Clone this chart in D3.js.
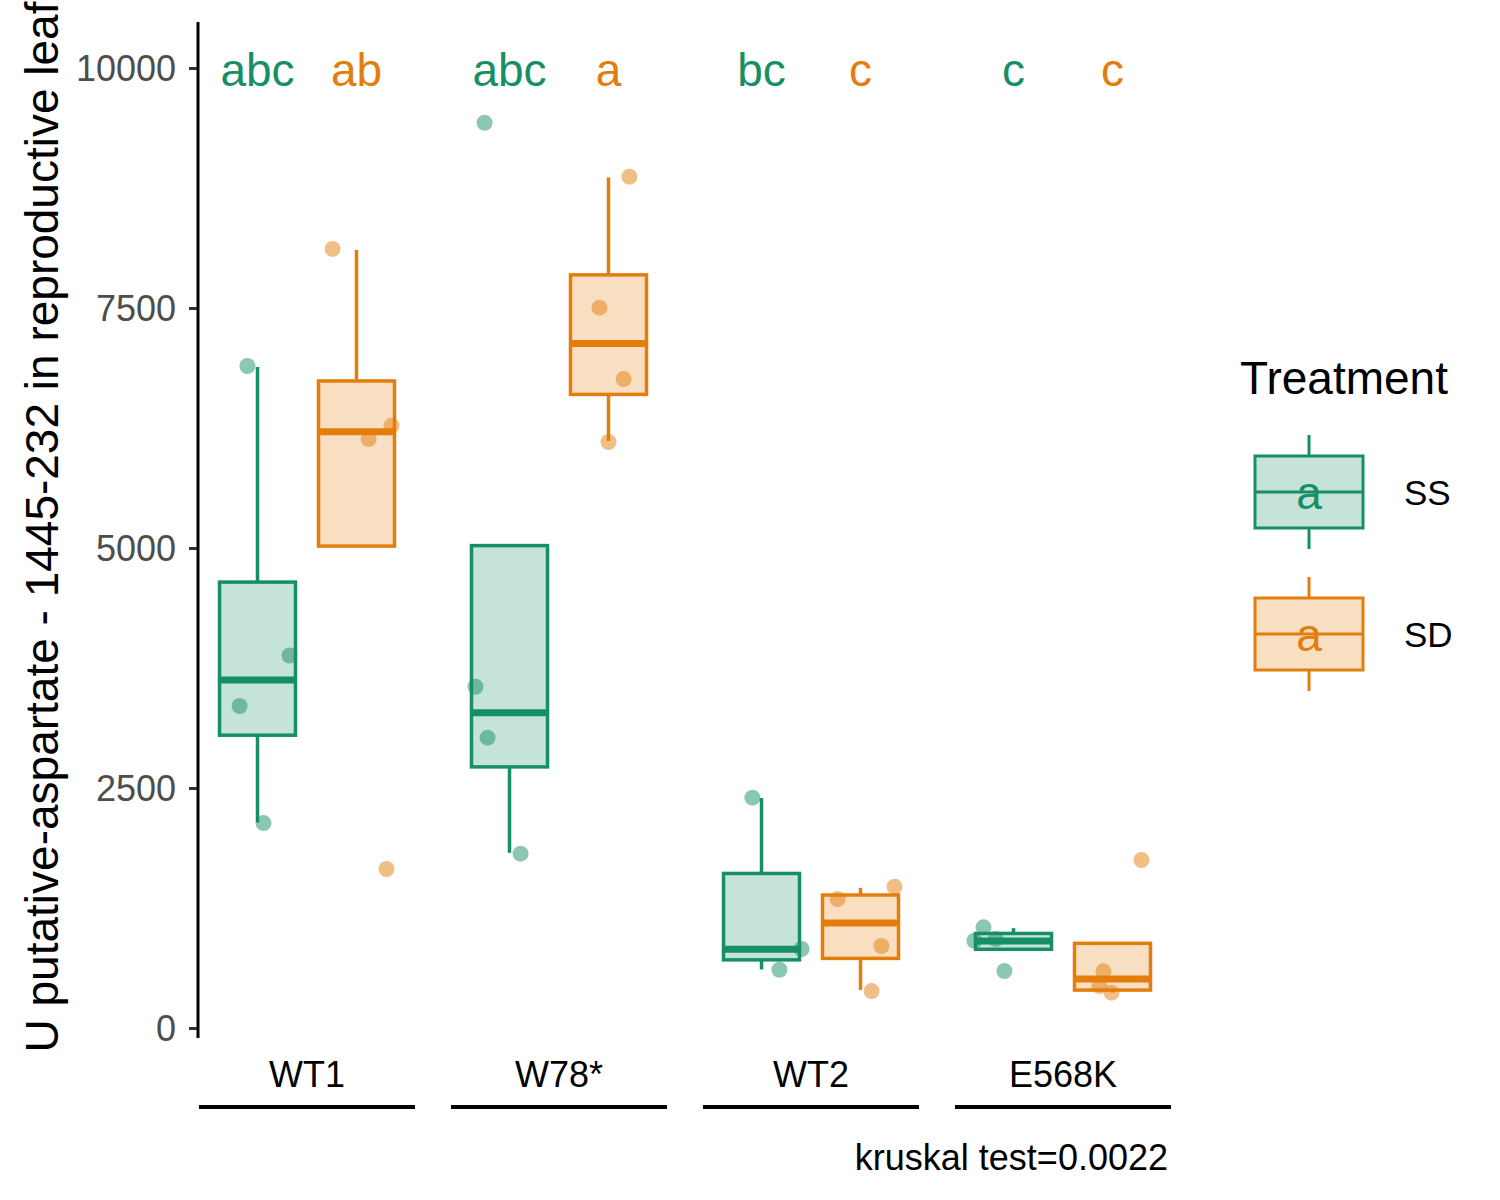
<!DOCTYPE html>
<html>
<head>
<meta charset="utf-8">
<script src="https://cdn.jsdelivr.net/npm/d3@7"></script>
<style>
  body { margin: 0; background: #fff; }
  svg { font-family: "Liberation Sans", Arial, sans-serif; }
</style>
</head>
<body>
<svg id="chart" width="1500" height="1200"></svg>
<script>
// ---------------- data ----------------
const genotypes = ["WT1", "W78*", "WT2", "E568K"];
const treatments = ["SS", "SD"];
const yTicks = [0, 2500, 5000, 7500, 10000];

// box statistics per genotype, [SS, SD]
const q1      = [[3050, 5020], [2720, 6600], [710, 725], [820, 395]];
const medians = [[3625, 6210], [3285, 7130], [820, 1095], [905, 510]];
const q3      = [[4645, 6740], [5025, 7845], [1610, 1385], [985, 882]];
const whiskLo = [[2140, 5020], [1825, 6115], [610, 395], [820, 370]];
const whiskHi = [[6885, 8105], [5025, 8860], [2395, 1460], [1040, 882]];

// observed points per genotype, [SS, SD]
const pointValues = [
  [[6896, 3880, 3354, 2135], [8115, 6274, 6135, 1656]],
  [[9430, 3555, 3024, 1816], [8868, 7503, 6760, 6104]],
  [[2399, 823, 607], [1472, 1344, 854, 385]],
  [[1049, 909, 927, 594], [1750, 590, 437, 368]]
];
// horizontal jitter of each point, as fraction of one genotype step
const pointJitter = [
  [[-0.040, 0.127, -0.071, 0.024], [-0.095, 0.139, 0.048, 0.119]],
  [[-0.099, -0.135, -0.087, 0.044], [0.083, -0.036, 0.060, 0.000]],
  [[-0.036, 0.159, 0.071], [0.135, -0.091, 0.083, 0.044]],
  [[-0.119, -0.155, -0.071, -0.036], [0.115, -0.036, -0.052, -0.004]]
];
// compact letter display
const cld = [["abc", "ab"], ["abc", "a"], ["bc", "c"], ["c", "c"]];
const cldValue = 9810;

const yTitle = "U putative-aspartate - 1445-232 in reproductive leaf";
const legendTitle = "Treatment";
const footnote = "kruskal test=0.0022";

// ---------------- style ----------------
const colors = { SS: "#178F64", SD: "#E37E0C" };

const svg = d3.select("#chart");

const y = d3.scaleLinear().domain([0, 10000]).range([1028, 68]);
const x = d3.scalePoint().domain(genotypes).range([307, 1063]);
const step = x.step();
const dodge = d3.scaleBand().domain(treatments).range([-99, 99]);
const boxW = 76;

function cx(gi, t) {
  return x(genotypes[gi]) + dodge(t) + dodge.bandwidth() / 2;
}

// y axis
const yAxis = d3.axisLeft(y).tickValues(yTicks).tickSize(9).tickPadding(13).tickFormat(d3.format("d"));
const gy = svg.append("g").attr("transform", "translate(198,0)").call(yAxis);
gy.select(".domain").remove();
gy.selectAll(".tick line").attr("stroke", "#333").attr("stroke-width", 3);
gy.selectAll(".tick text").attr("fill", "#4D4D4D").style("font-size", "36px")
  .attr("dy", "0.35em");
svg.append("line").attr("x1", 198).attr("x2", 198)
  .attr("y1", y(-104)).attr("y2", y(10480))
  .attr("stroke", "#000").attr("stroke-width", 3);

// y title
svg.append("text")
  .attr("transform", `translate(58,527) rotate(-90)`)
  .attr("text-anchor", "middle")
  .style("font-size", "46px")
  .attr("fill", "#000")
  .text(yTitle);

// group labels and underlines
genotypes.forEach((g, gi) => {
  svg.append("text").attr("x", x(g)).attr("y", 1087)
    .attr("text-anchor", "middle").style("font-size", "36px").attr("fill", "#000").text(g);
  svg.append("line").attr("x1", x(g) - 108).attr("x2", x(g) + 108)
    .attr("y1", 1107).attr("y2", 1107).attr("stroke", "#000").attr("stroke-width", 4);
});

// boxes
genotypes.forEach((g, gi) => {
  treatments.forEach((t, ti) => {
    const c = cx(gi, t);
    const col = colors[t];
    const gg = svg.append("g");
    gg.append("line").attr("x1", c).attr("x2", c)
      .attr("y1", y(q3[gi][ti])).attr("y2", y(whiskHi[gi][ti]))
      .attr("stroke", col).attr("stroke-width", 3.5);
    gg.append("line").attr("x1", c).attr("x2", c)
      .attr("y1", y(q1[gi][ti])).attr("y2", y(whiskLo[gi][ti]))
      .attr("stroke", col).attr("stroke-width", 3.5);
    gg.append("rect").attr("x", c - boxW / 2).attr("width", boxW)
      .attr("y", y(q3[gi][ti])).attr("height", y(q1[gi][ti]) - y(q3[gi][ti]))
      .attr("fill", col).attr("fill-opacity", 0.25)
      .attr("stroke", col).attr("stroke-width", 3.5);
    gg.append("line").attr("x1", c - boxW / 2).attr("x2", c + boxW / 2)
      .attr("y1", y(medians[gi][ti])).attr("y2", y(medians[gi][ti]))
      .attr("stroke", col).attr("stroke-width", 7);
  });
});

// points
genotypes.forEach((g, gi) => {
  treatments.forEach((t, ti) => {
    const c = cx(gi, t);
    svg.append("g").selectAll("circle")
      .data(pointValues[gi][ti].map((v, k) => ({ v, j: pointJitter[gi][ti][k] })))
      .join("circle")
      .attr("cx", d => c + d.j * step)
      .attr("cy", d => y(d.v))
      .attr("r", 8)
      .attr("fill", colors[t])
      .attr("fill-opacity", 0.5);
  });
});

// letters
genotypes.forEach((g, gi) => {
  treatments.forEach((t, ti) => {
    svg.append("text").attr("x", cx(gi, t)).attr("y", y(cldValue))
      .attr("text-anchor", "middle").style("font-size", "46px")
      .attr("fill", colors[t]).text(cld[gi][ti]);
  });
});

// footnote
svg.append("text").attr("x", 1168).attr("y", 1170).attr("text-anchor", "end")
  .style("font-size", "36px").attr("fill", "#000").text(footnote);

// legend
const lg = svg.append("g");
lg.append("text").attr("x", 1240).attr("y", 394).style("font-size", "46px")
  .attr("fill", "#000").text(legendTitle);
treatments.forEach((t, ti) => {
  const cy0 = 492 + ti * 142;
  const col = colors[t];
  const kx = 1309, kw = 108, kh = 72;
  lg.append("line").attr("x1", kx).attr("x2", kx).attr("y1", cy0 - 57).attr("y2", cy0 + 57)
    .attr("stroke", col).attr("stroke-width", 3);
  lg.append("rect").attr("x", kx - kw / 2).attr("y", cy0 - kh / 2).attr("width", kw).attr("height", kh)
    .attr("fill", "#fff").attr("stroke", "none");
  lg.append("rect").attr("x", kx - kw / 2).attr("y", cy0 - kh / 2).attr("width", kw).attr("height", kh)
    .attr("fill", col).attr("fill-opacity", 0.25).attr("stroke", col).attr("stroke-width", 3);
  lg.append("line").attr("x1", kx - kw / 2).attr("x2", kx + kw / 2).attr("y1", cy0).attr("y2", cy0)
    .attr("stroke", col).attr("stroke-width", 3);
  lg.append("text").attr("x", kx).attr("y", cy0 + 17).attr("text-anchor", "middle")
    .style("font-size", "46px").attr("fill", col).text("a");
  lg.append("text").attr("x", 1404).attr("y", cy0 + 13).style("font-size", "35px")
    .attr("fill", "#000").text(t);
});
</script>
</body>
</html>
